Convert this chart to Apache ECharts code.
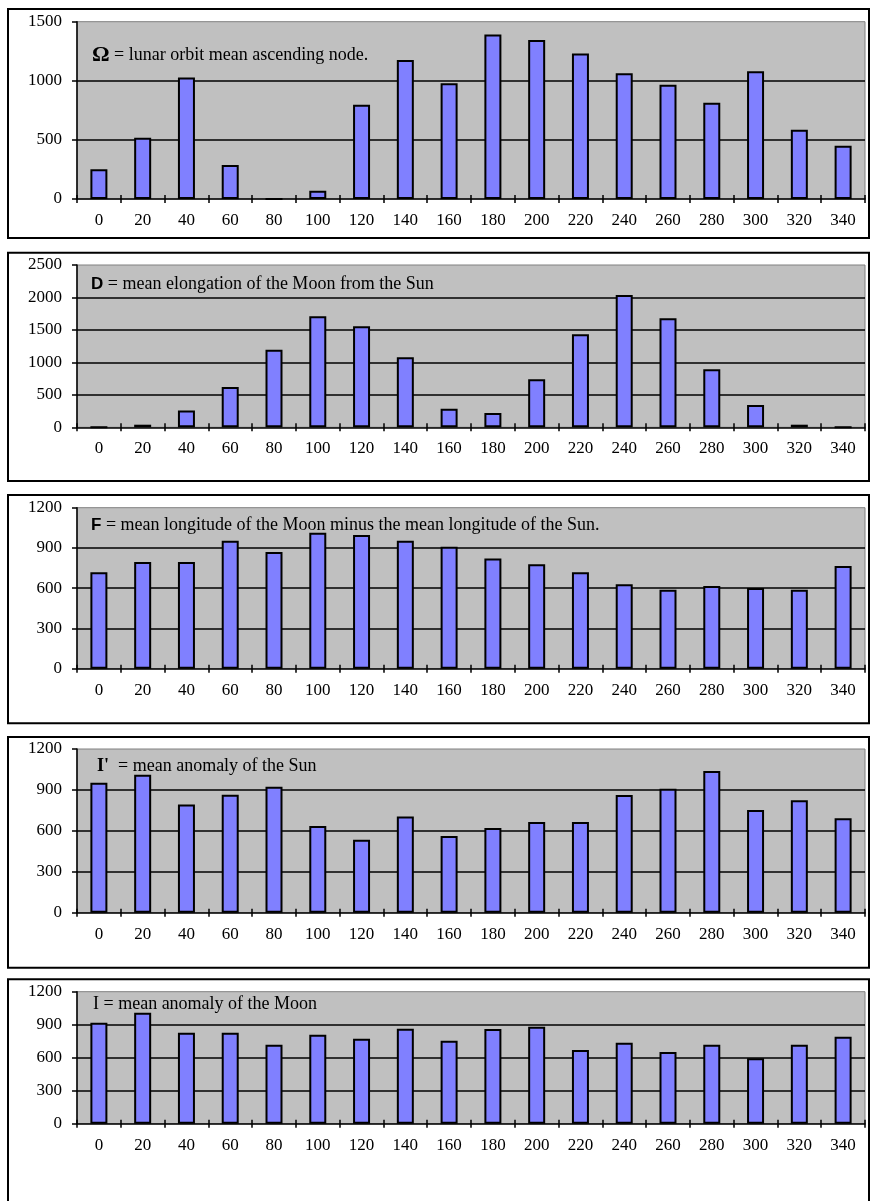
<!DOCTYPE html>
<html>
<head>
<meta charset="utf-8">
<script src="https://cdn.jsdelivr.net/npm/echarts@6/dist/echarts.min.js"></script>
<style>
html,body{margin:0;padding:0;background:#fff;}
#chart{width:870px;height:1201px;}
</style>
</head>
<body>
<div id="chart"></div>
<script>
var categories = ['0','20','40','60','80','100','120','140','160','180','200','220','240','260','280','300','320','340'];
var omegaValues = [252,518,1028,288,0,70,798,1176,980,1392,1345,1230,1064,966,815,1081,585,451];
var dValues = [0,40,257,621,1196,1709,1555,1078,287,221,739,1432,2038,1679,893,344,40,0];
var fValues = [718,795,795,954,870,1014,996,954,909,822,778,718,629,589,616,601,589,765];
var lPrimeValues = [953,1012,794,865,924,635,535,706,562,621,665,665,863,909,1039,753,824,692];
var lValues = [918,1009,827,827,718,809,773,864,755,861,882,670,736,652,718,594,718,791];
var yMax = [1500,2500,1200,1200,1200];
var yStep = [500,500,300,300,300];
var titles = [
  '{om|Ω} = lunar orbit mean ascending node.',
  '{sb|D} = mean elongation of the Moon from the Sun',
  '{sb|F} = mean longitude of the Moon minus the mean longitude of the Sun.',
  '{tb|I\'}  = mean anomaly of the Sun',
  'I = mean anomaly of the Moon'
];
var seriesData = [omegaValues, dValues, fValues, lPrimeValues, lValues];

// layout (pixels)
var plotTop = [21.7, 265, 507.7, 749, 991.7];
var plotBottom = [199, 427.3, 668.7, 912.7, 1123.7];
var boxTop = [8, 251.7, 494, 736, 978.3];
var boxBottom = [237, 480, 722.3, 966.7, 1215];
var titleTop = [45, 274, 515, 756, 994];
var titleLeft = [92, 91, 91, 97, 93];

var serif = '"Liberation Serif", "Times New Roman", serif';
var sans = '"Liberation Sans", Arial, sans-serif';

var grids = [], xAxes = [], yAxes = [], series = [], titleList = [], graphics = [];
for (var i = 0; i < 5; i++) {
  graphics.push({
    type: 'rect', left: 7, top: boxTop[i], z: -10,
    shape: {x: 0, y: 0, width: 861, height: boxBottom[i] - boxTop[i]},
    style: {fill: '#ffffff', stroke: '#000000', lineWidth: 2}
  });
  grids.push({
    left: 77, right: 5, top: plotTop[i], height: plotBottom[i] - plotTop[i],
    show: true, backgroundColor: '#C0C0C0', borderColor: '#808080', borderWidth: 1
  });
  xAxes.push({
    type: 'category', gridIndex: i, data: categories, boundaryGap: true,
    axisLine: {show: true, lineStyle: {color: '#000', width: 1.5}},
    axisTick: {show: true, interval: 0, length: 4, lineStyle: {color: '#000', width: 1.5}},
    axisLabel: {interval: 0, color: '#000', fontFamily: serif, fontSize: 17, margin: 13},
    splitLine: {show: false}
  });
  xAxes.push({
    type: 'category', gridIndex: i, data: categories, boundaryGap: true, position: 'bottom',
    axisLine: {show: false},
    axisTick: {show: true, inside: true, interval: 0, length: 4, lineStyle: {color: '#000', width: 1.5}},
    axisLabel: {show: false},
    splitLine: {show: false}
  });
  yAxes.push({
    type: 'value', gridIndex: i, min: 0, max: yMax[i], interval: yStep[i],
    axisLine: {show: true, lineStyle: {color: '#000', width: 1.5}},
    axisTick: {show: true, length: 5, lineStyle: {color: '#000', width: 1.5}},
    axisLabel: {color: '#000', fontFamily: serif, fontSize: 17, margin: 15,
      formatter: function (v) { return String(v); }},
    splitLine: {show: true, showMinLine: false, showMaxLine: false, lineStyle: {color: '#000', width: 1.5}}
  });
  series.push({
    type: 'bar', xAxisIndex: i * 2, yAxisIndex: i, data: seriesData[i],
    barWidth: 17,
    itemStyle: {color: '#8080FF', borderColor: '#000', borderWidth: 2},
    silent: true, animation: false
  });
  titleList.push({
    text: titles[i], left: titleLeft[i], top: titleTop[i], padding: 0,
    textStyle: {
      fontFamily: serif, fontSize: 18, fontWeight: 'normal', color: '#000', lineHeight: 20,
      rich: {
        om: {fontFamily: serif, fontSize: 22, fontWeight: 'bold', color: '#000', lineHeight: 20},
        sb: {fontFamily: sans, fontSize: 17, fontWeight: 'bold', color: '#000', lineHeight: 20},
        tb: {fontFamily: serif, fontSize: 18, fontWeight: 'bold', color: '#000', lineHeight: 20}
      }
    }
  });
}

var chart = echarts.init(document.getElementById('chart'), null, {renderer: 'canvas'});
chart.setOption({
  animation: false,
  backgroundColor: '#ffffff',
  title: titleList,
  graphic: graphics,
  grid: grids,
  xAxis: xAxes,
  yAxis: yAxes,
  series: series
});
</script>
</body>
</html>
